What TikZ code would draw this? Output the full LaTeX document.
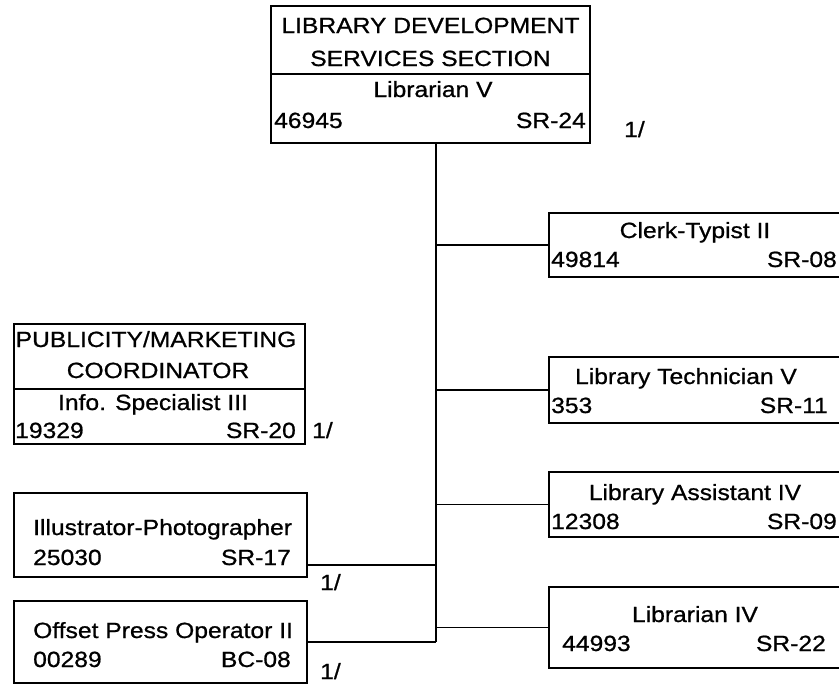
\documentclass[tikz,border=0pt]{standalone}
\usepackage{fontspec}
\setmainfont{Liberation Sans}[FakeStretch=1.12,FakeBold=0.8]
\begin{document}
\begin{tikzpicture}[x=1pt,y=-1pt,
  box/.style={draw, line width=1.3pt, rectangle, inner sep=0pt},
  conn/.style={line width=1.3pt},
  tc/.style={inner sep=0pt, anchor=base, font=\fontsize{22}{24}\selectfont},
  tl/.style={inner sep=0pt, anchor=base west, font=\fontsize{22}{24}\selectfont},
  tr/.style={inner sep=0pt, anchor=base east, font=\fontsize{22}{24}\selectfont}]
\useasboundingbox (0,0) rectangle (839,688);
\clip (0,0) rectangle (839,688);
\fill[white] (0,0) rectangle (839,688);

% boxes
\node[box, minimum width=319pt, minimum height=137pt] (top) at (430.5,74.5) {};
\node[box, minimum width=291pt, minimum height=120pt] (pub) at (159.5,384) {};
\node[box, minimum width=293pt, minimum height=84pt] (illu) at (160.5,535) {};
\node[box, minimum width=293pt, minimum height=82pt] (offs) at (160.5,642) {};
\node[box, minimum width=292pt, minimum height=64pt] (clerk) at (695,245) {};
\node[box, minimum width=292pt, minimum height=66pt] (tech) at (695,390) {};
\node[box, minimum width=292pt, minimum height=65pt] (assist) at (695,504.5) {};
\node[box, minimum width=292pt, minimum height=81pt] (lib4) at (695,627.5) {};

% dividers
\coordinate (d1) at (0,74);
\coordinate (d2) at (0,389);
\draw[conn] (top.west |- d1) -- (top.east |- d1);
\draw[conn] (pub.west |- d2) -- (pub.east |- d2);

% connectors
\coordinate (sp) at (436,0);
\coordinate (illc) at (0,565);
\draw[conn] (top.south -| sp) -- (sp |- offs.east);
\draw[conn] (clerk.west) -- (clerk.west -| sp);
\draw[conn] (tech.west) -- (tech.west -| sp);
\draw[conn] (assist.west) -- (assist.west -| sp);
\draw[conn] (lib4.west) -- (lib4.west -| sp);
\draw[conn] (illu.east |- illc) -- (sp |- illc);
\draw[conn] (offs.east) -- (offs.east -| sp);

% top box text
\node[tc] (a1) at (430.5,33) {LIBRARY DEVELOPMENT};
\node[tc] (a2) at (430.5,66) {SERVICES SECTION};
\node[tc] (a3) at (433,97) {Librarian V};
\node[tl] (a4) at (274,128) {46945};
\node[tr] (a5) at (586,128) {SR-24};
\node[tl] (a6) at (624,137) {1/};

% publicity
\node[tc] (b1) at (156,347) {PUBLICITY/MARKETING};
\node[tc] (b2) at (158,378) {COORDINATOR};
\node[tc] (b3) at (153,410) {Info. Specialist III};
\node[tl] (b4) at (15,438) {19329};
\node[tr] (b5) at (296,438) {SR-20};
\node[tl] (b6) at (312,438) {1/};

% illustrator
\node[tl] (c1) at (33,535) {Illustrator-Photographer};
\node[tl] (c2) at (33,565) {25030};
\node[tr] (c3) at (291,565) {SR-17};
\node[tl] (c4) at (320,590) {1/};

% offset
\node[tl] (e1) at (33,638) {Offset Press Operator II};
\node[tl] (e2) at (33,667) {00289};
\node[tr] (e3) at (291,667) {BC-08};
\node[tl] (e4) at (320,679) {1/};

% clerk
\node[tc] (f1) at (695,238) {Clerk-Typist II};
\node[tl] (f2) at (551,267) {49814};
\node[tr] (f3) at (837,267) {SR-08};

% tech
\node[tc] (g1) at (686,384) {Library Technician V};
\node[tl] (g2) at (551,413) {353};
\node[tr] (g3) at (828,413) {SR-11};

% assistant
\node[tc] (h1) at (695,500) {Library Assistant IV};
\node[tl] (h2) at (551,529) {12308};
\node[tr] (h3) at (837,529) {SR-09};

% librarian IV
\node[tc] (k1) at (695,622) {Librarian IV};
\node[tl] (k2) at (562,651) {44993};
\node[tr] (k3) at (826,651) {SR-22};
\end{tikzpicture}
\end{document}
